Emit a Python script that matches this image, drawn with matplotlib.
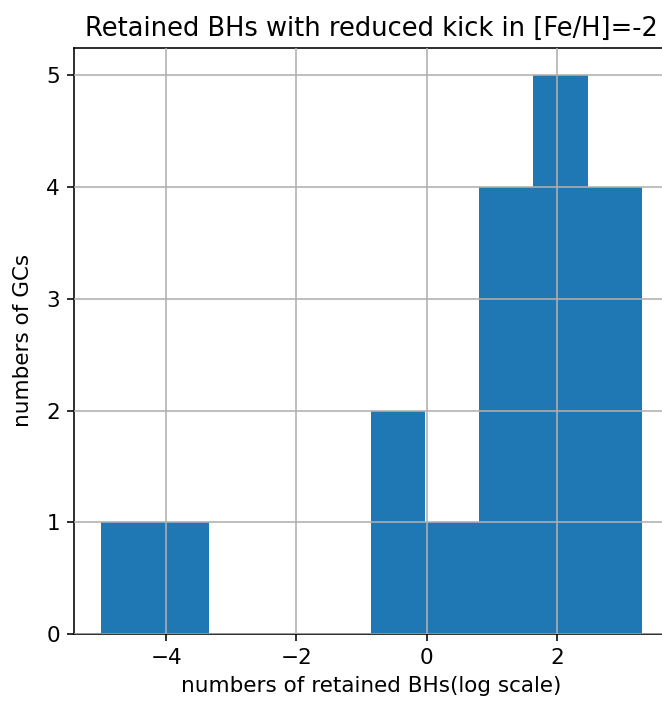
import matplotlib
matplotlib.use("Agg")
import matplotlib.pyplot as plt

# bin edges and counts
bin_edges = [-5.0, -4.17, -3.34, -2.51, -1.68, -0.85, -0.02, 0.81, 1.64, 2.47, 3.3]
counts = [1, 1, 0, 0, 0, 2, 1, 4, 5, 4]
centers = [(a + b) / 2 for a, b in zip(bin_edges[:-1], bin_edges[1:])]

plt.rcParams['font.size'] = 10.75

fig = plt.figure(figsize=(662 / 144, 704 / 144), dpi=144)
ax = fig.add_axes([74 / 662, 1 - 634 / 704, 594.6 / 662, 586.5 / 704])

ax.hist(centers, bins=bin_edges, weights=counts, color='#1f77b4')
ax.set_axisbelow(False)
ax.grid(True)

ax.set_title("Retained BHs with reduced kick in [Fe/H]=-2")
ax.set_xlabel("numbers of retained BHs(log scale)")
ax.set_ylabel("numbers of GCs", labelpad=6.5)

fig.savefig("out.png", dpi=144)
